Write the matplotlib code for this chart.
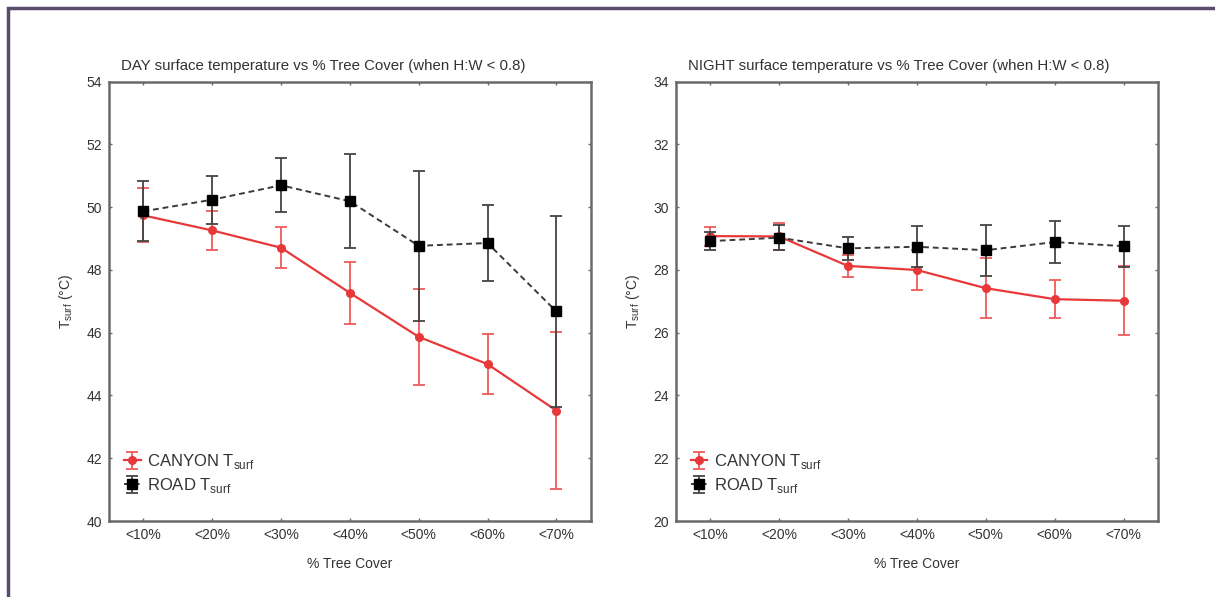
import numpy as np
import matplotlib
matplotlib.use('Agg')
import matplotlib.pyplot as plt
from matplotlib.patches import Rectangle

plt.rcParams['font.family'] = ['Liberation Sans', 'DejaVu Sans']
plt.rcParams['mathtext.fontset'] = 'custom'
plt.rcParams['mathtext.rm'] = 'Liberation Sans'

categories = ['<10%', '<20%', '<30%', '<40%', '<50%', '<60%', '<70%']

day_canyon = [49.74, 49.26, 48.71, 47.27, 45.87, 45.00, 43.52]
day_canyon_err = [0.86, 0.61, 0.65, 0.98, 1.52, 0.96, 2.50]
day_road = [49.87, 50.24, 50.70, 50.19, 48.77, 48.86, 46.68]
day_road_err = [0.96, 0.76, 0.86, 1.50, 2.39, 1.21, 3.04]

night_canyon = [29.08, 29.07, 28.13, 28.00, 27.42, 27.07, 27.02]
night_canyon_err = [0.30, 0.42, 0.34, 0.64, 0.96, 0.60, 1.10]
night_road = [28.92, 29.03, 28.69, 28.74, 28.63, 28.89, 28.76]
night_road_err = [0.28, 0.40, 0.36, 0.65, 0.81, 0.66, 0.65]

red = '#e8393a'
txt = '#333333'
spine = '#6a6a6a'


def panel(ax, canyon, canyon_err, road, road_err, ylim, title):
    x = np.arange(len(categories))
    ax.errorbar(x, canyon, yerr=canyon_err, color=red, marker='o', ms=5.5,
                lw=1.6, elinewidth=1.3, ecolor='#ee5a5a', capsize=4, capthick=1.3,
                label=r'CANYON T$_\mathrm{surf}$', zorder=3)
    ax.errorbar(x, road, yerr=road_err, color='#3a3a3a', ls=(0, (3, 2)), marker='s',
                ms=6.5, mfc='black', mec='black', lw=1.4, elinewidth=1.3,
                ecolor='#444444', capsize=4, capthick=1.3,
                label=r'ROAD T$_\mathrm{surf}$', zorder=4)
    ax.set_xlim(-0.5, 6.5)
    ax.set_ylim(*ylim)
    ax.set_xticks(x)
    ax.set_xticklabels(categories)
    ax.set_yticks(np.arange(ylim[0], ylim[1] + 1, 2))
    ax.tick_params(direction='in', length=2.5, width=1, colors=spine,
                   labelcolor=txt, labelsize=10, top=True, right=True, pad=5)
    for s in ax.spines.values():
        s.set_color(spine)
        s.set_linewidth(1.8)
    ax.set_xlabel('% Tree Cover', color=txt, fontsize=10, labelpad=11)
    ax.set_ylabel(r'T$_\mathrm{surf}$ (°C)', color=txt, fontsize=10, labelpad=8)
    ax.text(0.025, 1.02, title, transform=ax.transAxes, fontsize=10.8,
            color=txt, ha='left', va='bottom')
    ax.legend(loc='lower left', bbox_to_anchor=(0.0, 0.025), frameon=False,
              fontsize=12, handlelength=1.0, handletextpad=0.4,
              labelspacing=0.3, borderaxespad=0.5, labelcolor=txt)


fig = plt.figure(figsize=(12.15, 5.97), dpi=100)
ax1 = fig.add_axes([0.0897, 0.1273, 0.3965, 0.7358])
ax2 = fig.add_axes([0.5561, 0.1273, 0.397, 0.7358])

panel(ax1, day_canyon, day_canyon_err, day_road, day_road_err, (40, 54),
      'DAY surface temperature vs % Tree Cover (when H:W < 0.8)')
panel(ax2, night_canyon, night_canyon_err, night_road, night_road_err, (20, 34),
      'NIGHT surface temperature vs % Tree Cover (when H:W < 0.8)')

# purple frame around the figure
fig.patches.append(Rectangle((8 / 1215, -0.05), 1.1, 1.05 - 8 / 597,
                             transform=fig.transFigure, fill=False,
                             edgecolor='#5a4a6e', linewidth=2.5))

fig.savefig('out.png', dpi=100)
